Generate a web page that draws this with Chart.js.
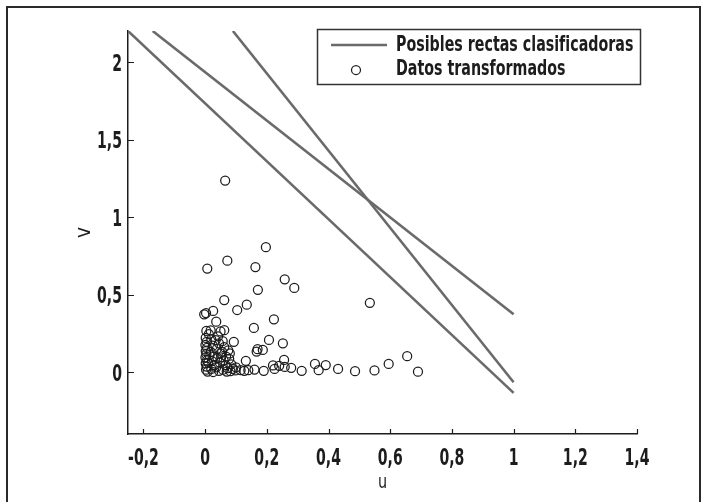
<!DOCTYPE html>
<html lang="es">
<head>
<meta charset="UTF-8">
<title>Datos transformados</title>
<style>
  html, body { margin: 0; padding: 0; background: #fff; }
  #wrap { width: 707px; height: 502px; }
</style>
</head>
<body>
<div id="wrap"><canvas id="chart" width="707" height="502"></canvas></div>
<script src="https://cdn.jsdelivr.net/npm/chart.js@4.4.1/dist/chart.umd.min.js"></script>
<script>
// datos transformados (u, v)
const datosU = [
  0.065, 0.197, 0.072, 0.007, 0.163, 0.258, 0.289, 0.171, 0.062, 0.135,
  0.104, 0.534, -0.003, 0.003, 0.026, 0.223, 0.036, 0.158, 0.093, 0.207,
  0.252, 0.170, 0.167, 0.187, 0.132, 0.256, 0.220, 0.225, 0.258, 0.279,
  0.313, 0.356, 0.368, 0.391, 0.431, 0.486, 0.549, 0.595, 0.655, 0.690,
  0.115, 0.127, 0.140, 0.160, 0.190, 0.240, 0.004, 0.018, 0.050, 0.062,
  0.002, 0.005, 0.001, 0.006, 0.002, 0.004, 0.001, 0.006, 0.002, 0.005,
  0.003, 0.008, 0.020, 0.025, 0.018, 0.028, 0.022, 0.030, 0.020, 0.026,
  0.042, 0.045, 0.038, 0.050, 0.040, 0.048, 0.036, 0.045, 0.057, 0.062,
  0.055, 0.068, 0.060, 0.066, 0.058, 0.070, 0.075, 0.080, 0.078, 0.085,
  0.090, 0.082, 0.100, 0.098, 0.012, 0.034, 0.010, 0.014, 0.052, 0.073
];
const datosV = [
  1.235, 0.805, 0.718, 0.667, 0.677, 0.598, 0.542, 0.530, 0.464, 0.434,
  0.400, 0.446, 0.372, 0.380, 0.394, 0.340, 0.325, 0.284, 0.195, 0.207,
  0.185, 0.147, 0.132, 0.142, 0.072, 0.078, 0.042, 0.020, 0.033, 0.027,
  0.008, 0.052, 0.012, 0.045, 0.020, 0.005, 0.010, 0.052, 0.102, 0.002,
  0.012, 0.008, 0.012, 0.016, 0.008, 0.040, 0.265, 0.268, 0.262, 0.270,
  0.220, 0.195, 0.175, 0.155, 0.135, 0.115, 0.095, 0.075, 0.055, 0.035,
  0.015, 0.003, 0.210, 0.170, 0.130, 0.100, 0.070, 0.045, 0.020, 0.000,
  0.230, 0.185, 0.150, 0.120, 0.090, 0.060, 0.030, 0.008, 0.200, 0.160,
  0.130, 0.100, 0.075, 0.045, 0.015, 0.003, 0.140, 0.120, 0.085, 0.050,
  0.020, 0.005, 0.030, 0.010, 0.245, 0.205, 0.060, 0.110, 0.095, 0.025
];

// extremos de las rectas clasificadoras
const rectasU = [[-0.25, 1], [-0.17, 1], [0.09, 1]];
const rectasV = [[2.2, -0.135], [2.2, 0.373], [2.2, -0.066]];

const ticksU = [-0.2, 0, 0.2, 0.4, 0.6, 0.8, 1, 1.2, 1.4];
const ticksV = [0, 0.5, 1, 1.5, 2];

const FONT = "'DejaVu Sans Condensed', 'DejaVu Sans', sans-serif";
const GRIS = '#6a6a6a';
const TINTA = '#1c1c1c';
const conComa = v => String(v).replace('.', ',');

// texto condensado sobre el canvas
function texto(ctx, str, x, y, opt = {}) {
  const { size = 23, align = 'center', sx = 0.68, rot = 0, weight = 'bold' } = opt;
  ctx.save();
  ctx.translate(x, y);
  if (rot) ctx.rotate(rot);
  ctx.scale(sx, 1);
  ctx.font = weight + ' ' + size + 'px ' + FONT;
  ctx.textAlign = align;
  ctx.textBaseline = 'alphabetic';
  ctx.fillStyle = TINTA;
  ctx.fillText(str, 0, 0);
  ctx.restore();
}

const rectas = rectasU.map((us, i) => ({
  type: 'line',
  label: 'Posibles rectas clasificadoras',
  data: us.map((u, j) => ({ x: u, y: rectasV[i][j] })),
  borderColor: GRIS,
  borderWidth: 2.6,
  pointRadius: 0,
  fill: false
}));

const puntos = {
  type: 'scatter',
  label: 'Datos transformados',
  data: datosU.map((u, i) => ({ x: u, y: datosV[i] })),
  pointStyle: 'circle',
  pointRadius: 4.5,
  borderWidth: 1.25,
  borderColor: TINTA,
  backgroundColor: 'rgba(0,0,0,0)'
};

// marco exterior, marcas hacia dentro, etiquetas y leyenda con recuadro
const adornos = {
  id: 'adornos',
  beforeDraw(chart) {
    const ctx = chart.ctx;
    ctx.save();
    ctx.fillStyle = '#fff';
    ctx.fillRect(0, 0, chart.width, chart.height);
    ctx.strokeStyle = '#2a2a2a';
    ctx.lineWidth = 2;
    ctx.strokeRect(7, 7, 693, 502);
    ctx.restore();
  },
  afterDraw(chart) {
    const { ctx, chartArea: a, scales: { x, y } } = chart;
    ctx.save();
    ctx.strokeStyle = TINTA;
    ctx.lineWidth = 1.2;
    ctx.beginPath();
    x.ticks.forEach(t => {
      const px = Math.round(x.getPixelForValue(t.value)) + 0.5;
      ctx.moveTo(px, a.bottom);
      ctx.lineTo(px, a.bottom - 5);
    });
    y.ticks.forEach(t => {
      const py = Math.round(y.getPixelForValue(t.value)) + 0.5;
      ctx.moveTo(a.left, py);
      ctx.lineTo(a.left + 6, py);
    });
    ctx.stroke();
    ctx.restore();

    // etiquetas de los ejes
    x.ticks.forEach(t => texto(ctx, conComa(t.value), x.getPixelForValue(t.value), a.bottom + 31));
    y.ticks.forEach(t => texto(ctx, conComa(t.value), a.left - 6, y.getPixelForValue(t.value) + 8.5, { align: 'right' }));
    texto(ctx, 'u', (a.left + a.right) / 2, a.bottom + 54, { size: 20, sx: 0.8, weight: 'normal' });
    texto(ctx, 'v', a.left - 38, (a.top + a.bottom) / 2, { size: 21, sx: 1, rot: -Math.PI / 2, weight: 'normal' });

    // leyenda
    const lx = a.right - 320, ly = a.top - 2, lw = 323, lh = 55;
    ctx.save();
    ctx.fillStyle = '#fff';
    ctx.fillRect(lx, ly, lw, lh);
    ctx.strokeStyle = '#333';
    ctx.lineWidth = 1.5;
    ctx.strokeRect(lx + 0.5, ly + 0.5, lw, lh);

    ctx.strokeStyle = GRIS;
    ctx.lineWidth = 2.6;
    ctx.beginPath();
    ctx.moveTo(lx + 14, ly + 16);
    ctx.lineTo(lx + 70, ly + 16);
    ctx.stroke();

    ctx.strokeStyle = TINTA;
    ctx.lineWidth = 1.25;
    ctx.beginPath();
    ctx.arc(lx + 39, ly + 41, 4.5, 0, Math.PI * 2);
    ctx.stroke();
    ctx.restore();

    texto(ctx, 'Posibles rectas clasificadoras', lx + 79, ly + 22, { size: 22, sx: 0.72, align: 'left' });
    texto(ctx, 'Datos transformados', lx + 79, ly + 46, { size: 22, sx: 0.72, align: 'left' });
  }
};

new Chart(document.getElementById('chart'), {
  type: 'scatter',
  data: { datasets: [...rectas, puntos] },
  options: {
    responsive: false,
    animation: false,
    devicePixelRatio: 1,
    layout: { padding: { top: 31, right: 70, left: 0, bottom: 0 } },
    plugins: { legend: { display: false }, tooltip: { enabled: false } },
    scales: {
      x: {
        type: 'linear',
        min: -0.25,
        max: 1.4,
        afterBuildTicks: s => { s.ticks = ticksU.map(v => ({ value: v })); },
        afterFit: s => { s.height = 68; },
        grid: { display: false },
        border: { display: true, color: TINTA, width: 1.5 },
        ticks: { display: false }
      },
      y: {
        type: 'linear',
        min: -0.4,
        max: 2.2,
        afterBuildTicks: s => { s.ticks = ticksV.map(v => ({ value: v })); },
        afterFit: s => { s.width = 128; },
        grid: { display: false },
        border: { display: true, color: TINTA, width: 1.5 },
        ticks: { display: false }
      }
    }
  },
  plugins: [adornos]
});
</script>
</body>
</html>
